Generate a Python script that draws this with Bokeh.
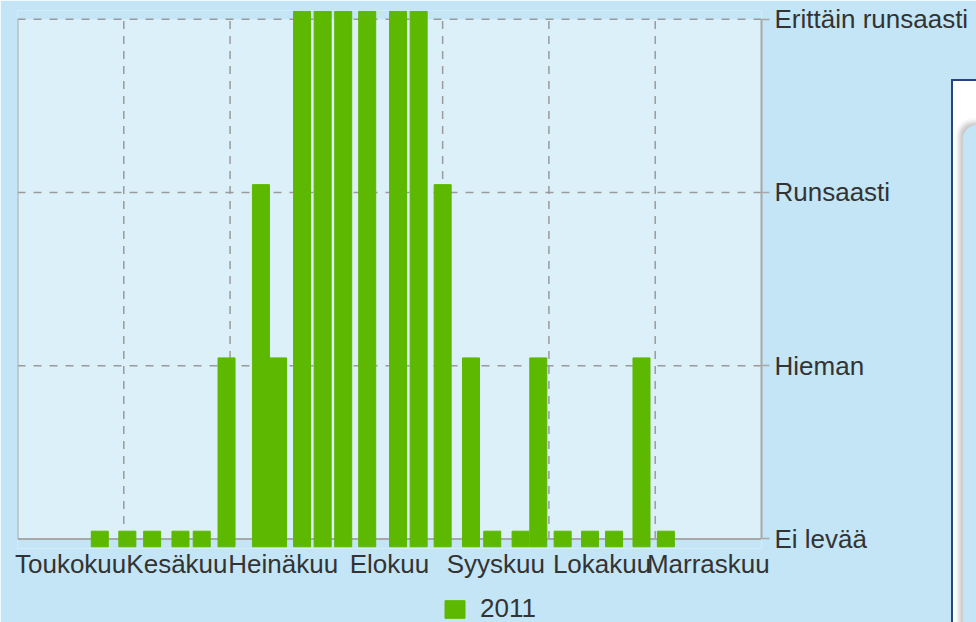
import calendar
from bokeh.plotting import figure
from bokeh.models import Range1d, FixedTicker, Legend, LegendItem, ColumnDataSource, Div
from bokeh.layouts import column
from bokeh.embed import file_html
from bokeh.resources import INLINE

# ---- data ----
year = 2011
months = ["Toukokuu", "Kesäkuu", "Heinäkuu", "Elokuu", "Syyskuu", "Lokakuu", "Marraskuu"]
month_numbers = [5, 6, 7, 8, 9, 10, 11]
levels = ["Ei levää", "Hieman", "Runsaasti", "Erittäin runsaasti"]
obs_dates = ["05-25", "06-02", "06-09", "06-17", "06-23", "06-30",
             "07-10", "07-15", "07-22", "07-28", "08-03", "08-10",
             "08-19", "08-25", "09-01", "09-09", "09-15", "09-23",
             "09-28", "10-05", "10-13", "10-20", "10-28", "11-04"]
obs_values = [0, 0, 0, 0, 0, 1,
              2, 1, 3, 3, 3, 3,
              3, 3, 2, 1, 0, 0,
              1, 0, 0, 0, 1, 0]
series_name = "2011"

# ---- styles ----
OUTER = "#c3e5f5"
INNER = "#dcf0f9"
GREEN = "#5cb800"
GRID = "#9a9a9a"
BORDER = "#a8a8a8"
TEXT = "#333333"
FONT = "Liberation Sans"
FS = "26px"

# positions in month units (each month same width)
xs = []
for d in obs_dates:
    m, day = (int(t) for t in d.split("-"))
    idx = month_numbers.index(m)
    dim = calendar.monthrange(year, m)[1]
    xs.append(idx + (day - 1) / dim)

half_w = 0.08
pad = 0.045
src = ColumnDataSource(dict(
    left=[x - half_w for x in xs],
    right=[x + half_w for x in xs],
    bottom=[-pad for _ in xs],
    top=[v + pad for v in obs_values],
))

n_m = len(months)
top_level = len(levels) - 1

p = figure(width=976, height=622, margin=0,
           x_range=Range1d(0, n_m), y_range=Range1d(-0.055, top_level + 0.05),
           y_axis_location="right", output_backend="svg", toolbar_location=None,
           min_border_left=17, min_border_top=10, min_border_bottom=74, min_border_right=215,
           background_fill_color=OUTER, border_fill_color=OUTER, outline_line_color=None)
p.xgrid.visible = False
p.ygrid.visible = False

# plot area
p.quad(left=[0], right=[n_m], bottom=[0], top=[top_level],
       fill_color=INNER, line_color=None)

# grid lines
vx = list(range(1, n_m))
p.segment(x0=vx, x1=vx, y0=[0] * len(vx), y1=[top_level] * len(vx),
          line_color=GRID, line_width=1.5, line_dash="8 7")
hy = list(range(1, top_level + 1))
p.segment(x0=[0] * len(hy), x1=[n_m] * len(hy), y0=hy, y1=hy,
          line_color=GRID, line_width=1.5, line_dash="8 8")
# borders left and bottom
p.segment(x0=[0, 0], x1=[0, n_m], y0=[0, 0], y1=[top_level, 0],
          line_color=BORDER, line_width=2)

bars = p.quad(left="left", right="right", bottom="bottom", top="top", source=src,
              fill_color=GREEN, line_color=GREEN, line_width=1)

# x axis
p.xaxis.ticker = FixedTicker(ticks=[i + 0.5 for i in range(n_m)])
p.xaxis.major_label_overrides = {i + 0.5: m for i, m in enumerate(months)}
p.xaxis.axis_line_color = None
p.xaxis.major_tick_line_color = None
p.xaxis.minor_tick_line_color = None
p.xaxis.major_tick_out = 0
p.xaxis.major_label_standoff = 0
p.xaxis.major_label_text_font = FONT
p.xaxis.major_label_text_font_size = FS
p.xaxis.major_label_text_color = TEXT

# y axis (right)
p.yaxis.ticker = FixedTicker(ticks=list(range(len(levels))))
p.yaxis.major_label_overrides = {i: l for i, l in enumerate(levels)}
p.yaxis.bounds = (0, top_level)
p.yaxis.axis_line_color = BORDER
p.yaxis.axis_line_width = 2
p.yaxis.major_tick_line_color = BORDER
p.yaxis.major_tick_line_width = 1.5
p.yaxis.major_tick_in = 0
p.yaxis.major_tick_out = 8
p.yaxis.minor_tick_line_color = None
p.yaxis.major_label_standoff = 5
p.yaxis.major_label_text_font = FONT
p.yaxis.major_label_text_font_size = FS
p.yaxis.major_label_text_color = TEXT

# legend: small legend-only figure placed under the chart (shares the bar data,
# whose bars fall outside this small figure's view so only the key shows)
lf = figure(width=110, height=29, margin=0, x_range=Range1d(-10, -9), y_range=Range1d(-10, -9),
            output_backend="svg", toolbar_location=None, min_border=0,
            background_fill_color=OUTER, border_fill_color=OUTER, outline_line_color=None,
            styles={"position": "absolute", "left": "442px", "top": "593px"})
lf.axis.visible = False
lf.grid.visible = False
key = lf.quad(left="left", right="right", bottom="bottom", top="top", source=src,
              fill_color=GREEN, line_color=GREEN)
lf.add_layout(Legend(items=[LegendItem(label=series_name, renderers=[key])],
                     location="top_left", orientation="horizontal",
                     glyph_width=25, glyph_height=22, label_standoff=13,
                     padding=0, margin=0, spacing=0,
                     background_fill_alpha=0, border_line_color=None,
                     label_text_font=FONT, label_text_font_size=FS, label_text_color=TEXT))

# partially visible side panel at right
side = Div(text=('<div style="position:absolute;left:10px;top:44px;width:40px;height:600px;'
                 'background:%s;border-radius:14px;box-shadow:-4px -3px 5px #c8c8c8;"></div>' % OUTER),
           width=25, height=543, margin=0,
           styles={"position": "absolute", "left": "951px", "top": "79px",
                   "background": "white", "border-left": "2.5px solid #27457f",
                   "border-top": "2.5px solid #27457f", "overflow": "hidden",
                   "box-sizing": "border-box"})

layout = column(p, lf, side, margin=0)
open("out.html", "w").write(file_html(layout, INLINE))
